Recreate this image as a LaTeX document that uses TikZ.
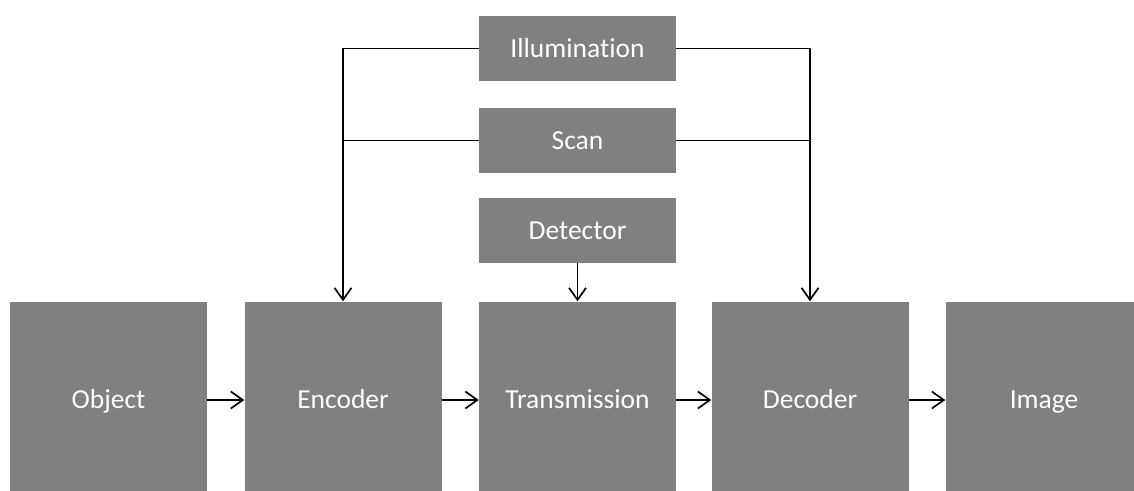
\documentclass[tikz,border=0pt]{standalone}
\usepackage{fontspec}
\setmainfont{Carlito}[Ligatures=NoCommon]
\usetikzlibrary{arrows.meta}
\begin{document}
\begin{tikzpicture}[x=1pt,y=-1pt,
  block/.style={draw=none,fill=gray50,text=white,inner sep=0pt,
    minimum width=197pt,text height=22pt,text depth=4.3pt,
    font=\fontsize{27.5}{32}\selectfont},
  bigbox/.style={block,minimum height=197pt},
  smallbox/.style={block,minimum height=65pt},
  link/.style={line width=1.7pt,black},
  flow/.style={link,-{Straight Barb[length=12pt,width=17pt,line width=1.7pt]}}]
\colorlet{gray50}{black!50}
\useasboundingbox (0,0) rectangle (1134,490);
\clip (0,0) rectangle (1134,490);
% main chain
\node[bigbox] (obj) at (108.5,400) {Object};
\node[bigbox] (enc) at (343,400) {Encoder};
\node[bigbox] (tra) at (577.5,400) {Transmission};
\node[bigbox] (dec) at (810,400) {Decoder};
\node[bigbox] (img) at (1044,400) {Image};
% control boxes
\node[smallbox] (ill) at (577.5,48.5) {Illumination};
\node[smallbox] (scn) at (577.5,140.5) {Scan};
\node[smallbox] (det) at (577.5,230.5) {Detector};
% horizontal flow
\draw[flow] (obj) -- (enc);
\draw[flow] (enc) -- (tra);
\draw[flow] (tra) -- (dec);
\draw[flow] (dec) -- (img);
% illumination and scan feed encoder and decoder
\draw[flow] (ill.west) -| (enc.north);
\draw[flow] (ill.east) -| (dec.north);
\draw[link] (scn.west) -- (scn.west -| enc.north);
\draw[link] (scn.east) -- (scn.east -| dec.north);
% detector feeds transmission
\draw[flow] (det) -- (tra);
\end{tikzpicture}
\end{document}
